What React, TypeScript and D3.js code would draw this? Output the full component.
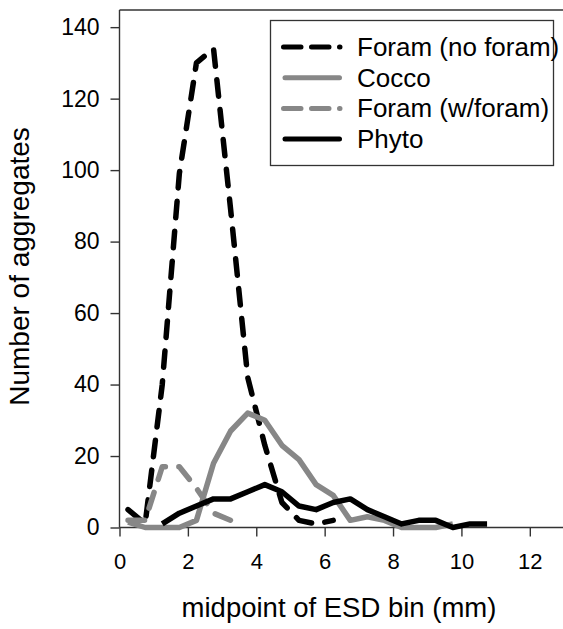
import React, { useRef, useEffect } from 'react';
import * as d3 from 'd3';

// bin midpoints (mm) and counts
const binMid = [0.25, 0.75, 1.25, 1.75, 2.25, 2.75, 3.25, 3.75, 4.25, 4.75, 5.25, 5.75, 6.25, 6.75, 7.25, 7.75, 8.25, 8.75, 9.25, 9.75, 10.25, 10.75];
const foramNoForam = [5, 1, 40, 99, 130, 134, 89, 42, 23, 7, 2, 1, 2];
const cocco = [1.5, 0, 0, 0, 2, 18, 27, 32, 30, 23, 19, 12, 9, 2, 3, 2, 0, 0, 0, 1];
const foramWithForam = [2, 2, 17, 17, 11, 4, 2];
const phytoStart = 2; // phyto has no points in the first two bins
const phyto = [1, 4, 6, 8, 8, 10, 12, 10, 6, 5, 7, 8, 5, 3, 1, 2, 2, 0, 1, 1];

const xTicks = [0, 2, 4, 6, 8, 10, 12];
const yTicks = [0, 20, 40, 60, 80, 100, 120, 140];

const seriesNames = ['Foram (no foram)', 'Cocco', 'Foram (w/foram)', 'Phyto'];
const seriesColors = ['#000000', '#878787', '#878787', '#000000'];
const dashed = [true, false, true, false];

const W = 563;
const H = 629;
const FONT = '"Liberation Sans", Arial, sans-serif';

const App = () => {
  const svgRef = useRef<SVGSVGElement>(null);

  useEffect(() => {
    const svg = d3.select(svgRef.current);
    svg.selectAll('*').remove();

    const yTop = 144.8;
    const x = d3.scaleLinear().domain([0, 13]).range([119.5, 564]);
    const y = d3.scaleLinear().domain([0, yTop]).range([527.5, 10]);

    const series = [
      foramNoForam.map((v, i) => [binMid[i], v]),
      cocco.map((v, i) => [binMid[i], v]),
      foramWithForam.map((v, i) => [binMid[i], v]),
      phyto.map((v, i) => [binMid[i + phytoStart], v]),
    ];

    const line = d3.line<number[]>()
      .x(d => x(d[0]))
      .y(d => y(d[1]));

    // top border of the plot area
    svg.append('line')
      .attr('x1', x(0)).attr('x2', W)
      .attr('y1', y(yTop)).attr('y2', y(yTop))
      .attr('stroke', '#333').attr('stroke-width', 1.4);

    // y axis
    const yAxis = svg.append('g')
      .attr('transform', `translate(${x(0)},0)`)
      .call(d3.axisLeft(y).tickValues(yTicks).tickSize(9).tickPadding(11).tickSizeOuter(0));
    yAxis.select('.domain').remove();
    yAxis.append('line')
      .attr('y1', y(0)).attr('y2', y(yTop))
      .attr('stroke', '#333').attr('stroke-width', 1.4);
    yAxis.selectAll('.tick text').style('font-size', '23px');

    // x axis
    const xAxis = svg.append('g')
      .attr('transform', `translate(0,${y(0)})`)
      .call(d3.axisBottom(x).tickValues(xTicks).tickSize(9).tickPadding(17).tickSizeOuter(0));
    xAxis.select('.domain').remove();
    xAxis.append('line')
      .attr('x1', x(0)).attr('x2', W)
      .attr('stroke', '#333').attr('stroke-width', 1.4);
    xAxis.selectAll('.tick text').style('font-size', '22px');

    svg.selectAll('.tick line').attr('stroke', '#333').attr('stroke-width', 1.4);
    svg.selectAll('.tick text')
      .attr('fill', '#000')
      .style('font-family', FONT);

    // data lines
    series.forEach((pts, i) => {
      svg.append('path')
        .attr('d', line(pts as any))
        .attr('fill', 'none')
        .attr('stroke', seriesColors[i])
        .attr('stroke-width', 5.5)
        .attr('stroke-linejoin', 'round')
        .attr('stroke-linecap', dashed[i] ? 'round' : 'butt')
        .attr('stroke-dasharray', dashed[i] ? '16.5 13.5' : null);
    });

    // legend
    const legend = svg.append('g');
    legend.append('rect')
      .attr('x', 270.5).attr('y', 20.5)
      .attr('width', 283).attr('height', 145)
      .attr('fill', '#fff')
      .attr('stroke', '#333').attr('stroke-width', 1.3);
    seriesNames.forEach((name, i) => {
      const ry = 47 + i * 30.7;
      legend.append('line')
        .attr('x1', dashed[i] ? 283.5 : 285).attr('x2', dashed[i] ? 340 : 339.5)
        .attr('y1', ry).attr('y2', ry)
        .attr('stroke', seriesColors[i])
        .attr('stroke-width', 5)
        .attr('stroke-linecap', 'round')
        .attr('stroke-dasharray', dashed[i] ? '17.5 10.5' : null);
      legend.append('text')
        .attr('x', 357).attr('y', ry + 9)
        .style('font-family', FONT)
        .style('font-size', '26px')
        .attr('fill', '#000')
        .text(name);
    });

    // axis titles
    svg.append('text')
      .attr('x', 339).attr('y', 617)
      .attr('text-anchor', 'middle')
      .style('font-family', FONT)
      .style('font-size', '27.5px')
      .text('midpoint of ESD bin (mm)');
    svg.append('text')
      .attr('transform', 'translate(29,266.5) rotate(-90)')
      .attr('text-anchor', 'middle')
      .style('font-family', FONT)
      .style('font-size', '28px')
      .text('Number of aggregates');
  }, []);

  return (
    <svg
      ref={svgRef}
      width={W}
      height={H}
      style={{ position: 'absolute', left: 0, top: 0, background: '#fff' }}
    />
  );
};

export default App;
